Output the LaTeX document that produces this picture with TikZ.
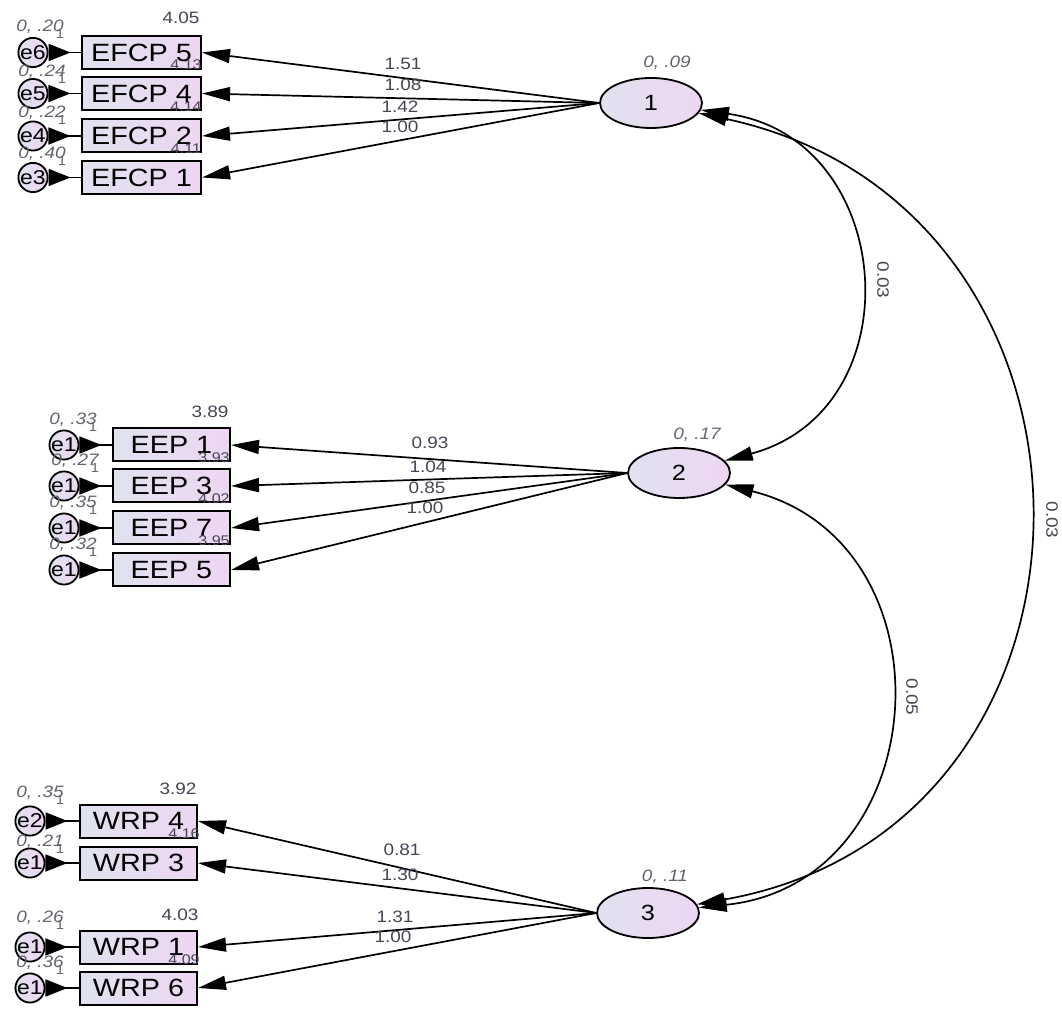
\documentclass[tikz,border=0pt]{standalone}
\usepackage{fontspec}
\setmainfont{Liberation Sans}[FakeStretch=1.15]
\usetikzlibrary{arrows.meta,shapes.geometric}
\definecolor{boxL}{RGB}{224,226,240}
\definecolor{boxR}{RGB}{238,214,242}
\definecolor{lab}{RGB}{70,70,85}
\definecolor{varlab}{RGB}{100,100,112}
\begin{document}
\begin{tikzpicture}[x=1pt,y=1pt,
 obs/.style={draw=black,line width=2pt,left color=boxL,right color=boxR,minimum width=117pt,minimum height=33pt,inner sep=0pt,font=\fontsize{25}{25}\selectfont},
 lat/.style={ellipse,draw=black,line width=1.8pt,left color=boxL,right color=boxR,minimum width=102pt,minimum height=50pt,inner sep=0pt,font=\fontsize{22}{22}\selectfont},
 err/.style={circle,draw=black,line width=1.8pt,left color=boxL,right color=boxR,minimum size=27pt,inner sep=0pt,font=\fontsize{20}{20}\selectfont},
 load/.style={line width=1.7pt,-{Triangle[length=28pt,width=14pt]}},
 cov/.style={line width=1.7pt,{Triangle[length=28pt,width=14pt]}-{Triangle[length=28pt,width=14pt]}},
 earr/.style={line width=1.7pt,{Triangle[reversed,length=22pt,width=17pt]}-},
 wt/.style={text=lab,font=\fontsize{16.5}{16.5}\selectfont,inner sep=0pt},
 icp/.style={text=lab,font=\fontsize{14}{14}\selectfont,inner sep=0pt},
 var/.style={text=varlab,font=\fontsize{16.5}{16.5}\selectfont\itshape,inner sep=0pt},
 one/.style={text=varlab,font=\fontsize{13}{13}\selectfont,inner sep=0pt}
]
\fill[white] (0,0) rectangle (1062,1010);
\useasboundingbox (0,0) rectangle (1062,1010);

% latent variables
\node[lat] (l1) at (651,907) {1};
\node[lat] (l2) at (679,537) {2};
\node[lat] (l3) at (648,97) {3};

% EFCP block
\node[obs,minimum width=119pt] (b5) at (141.5,957.5) {EFCP 5};
\node[obs,minimum width=119pt] (b4) at (141.5,916.5) {EFCP 4};
\node[obs,minimum width=119pt] (b2) at (141.5,874) {EFCP 2};
\node[obs,minimum width=119pt] (b1) at (141.5,832.5) {EFCP 1};
\node[err] (e6) at (33,957.5) {e6};
\node[err] (e5) at (33,916.5) {e5};
\node[err] (e4) at (33,874) {e4};
\node[err] (e3) at (33,832.5) {e3};

% EEP block
\node[obs] (p1) at (171.5,565) {EEP 1};
\node[obs] (p3) at (171.5,524) {EEP 3};
\node[obs] (p7) at (171.5,482) {EEP 7};
\node[obs] (p5) at (171.5,440) {EEP 5};
\node[err] (ea1) at (64,565) {e1};
\node[err] (ea2) at (64,524) {e1};
\node[err] (ea3) at (64,482) {e1};
\node[err] (ea4) at (64,440) {e1};

% WRP block
\node[obs] (w4) at (138.5,189) {WRP 4};
\node[obs] (w3) at (138.5,147) {WRP 3};
\node[obs] (w1) at (138.5,63) {WRP 1};
\node[obs] (w6) at (138.5,22) {WRP 6};
\node[err] (eb1) at (30,189) {e2};
\node[err] (eb2) at (30,147) {e1};
\node[err] (eb3) at (30,63) {e1};
\node[err] (eb4) at (30,22) {e1};

% error arrows
\foreach \e/\b in {e6/b5,e5/b4,e4/b2,e3/b1,ea1/p1,ea2/p3,ea3/p7,ea4/p5,eb1/w4,eb2/w3,eb3/w1,eb4/w6}
  \draw[earr] (\e) -- (\b);

% loadings
\foreach \b in {b5,b4,b2,b1} \draw[load] (l1.west) -- (\b.east);
\foreach \b in {p1,p3,p7,p5} \draw[load] (l2.west) -- (\b.east);
\foreach \b in {w4,w3,w1,w6} \draw[load] (l3.west) -- (\b.east);

% covariances
\draw[cov] (l1.-8) .. controls +(-8:198) and +(15:198) .. (l2.15);
\draw[cov] (l1.-12) .. controls +(-12:447) and +(10:447) .. (l3.10);
\draw[cov] (l2.-14) .. controls +(-14:239) and +(6:239) .. (l3.6);
\node[wt,rotate=-90] (c12) at (883,730) {0.03};
\node[wt,rotate=-90] (c23) at (912,313) {0.05};
\node[wt,rotate=-90] (c13) at (1052,490) {0.03};

% latent variance labels
\node[var] (v1) at (667,947) {0, .09};
\node[var] (v2) at (697,575) {0, .17};
\node[var] (v3) at (665,133) {0, .11};

% loading weights
\node[wt] (r1) at (403,946) {1.51};
\node[wt] (r2) at (403,925) {1.08};
\node[wt] (r3) at (400,903) {1.42};
\node[wt] (r4) at (400,883) {1.00};
\node[wt] (r5) at (430,567) {0.93};
\node[wt] (r6) at (428,543) {1.04};
\node[wt] (r7) at (427,522) {0.85};
\node[wt] (r8) at (425,502) {1.00};
\node[wt] (r9) at (402,160) {0.81};
\node[wt] (r10) at (400,135) {1.30};
\node[wt] (r11) at (395,93) {1.31};
\node[wt] (r12) at (393,73) {1.00};

% intercepts
\node[wt] (i1) at (181,992) {4.05};
\node[icp] (i2) at (186,945) {4.13};
\node[icp] (i3) at (186,903) {4.14};
\node[icp] (i4) at (186,861) {4.11};
\node[wt] (i5) at (210,598) {3.89};
\node[icp] (i6) at (214,552) {3.93};
\node[icp] (i7) at (214,511) {4.02};
\node[icp] (i8) at (214,469) {3.95};
\node[wt] (i9) at (178,221) {3.92};
\node[icp] (i10) at (184,176) {4.16};
\node[wt] (i11) at (180,95) {4.03};
\node[icp] (i12) at (184,50) {4.09};

% error variances with fixed weights
\foreach \x/\y/\t [count=\k] in {40/983/{0, .20},42/938/{0, .24},42/897/{0, .22},42/856/{0, .40},
  73/590/{0, .33},75/549/{0, .27},73/507/{0, .35},73/465/{0, .32},
  40/217/{0, .35},40/168/{0, .21},40/92/{0, .26},40/47/{0, .36}}
{
  \node[var] (ev\k) at (\x,\y) {\t};
  \node[one] (eo\k) at ([xshift=-4pt,yshift=-7pt]ev\k.east) {1};
}
\end{tikzpicture}
\end{document}
